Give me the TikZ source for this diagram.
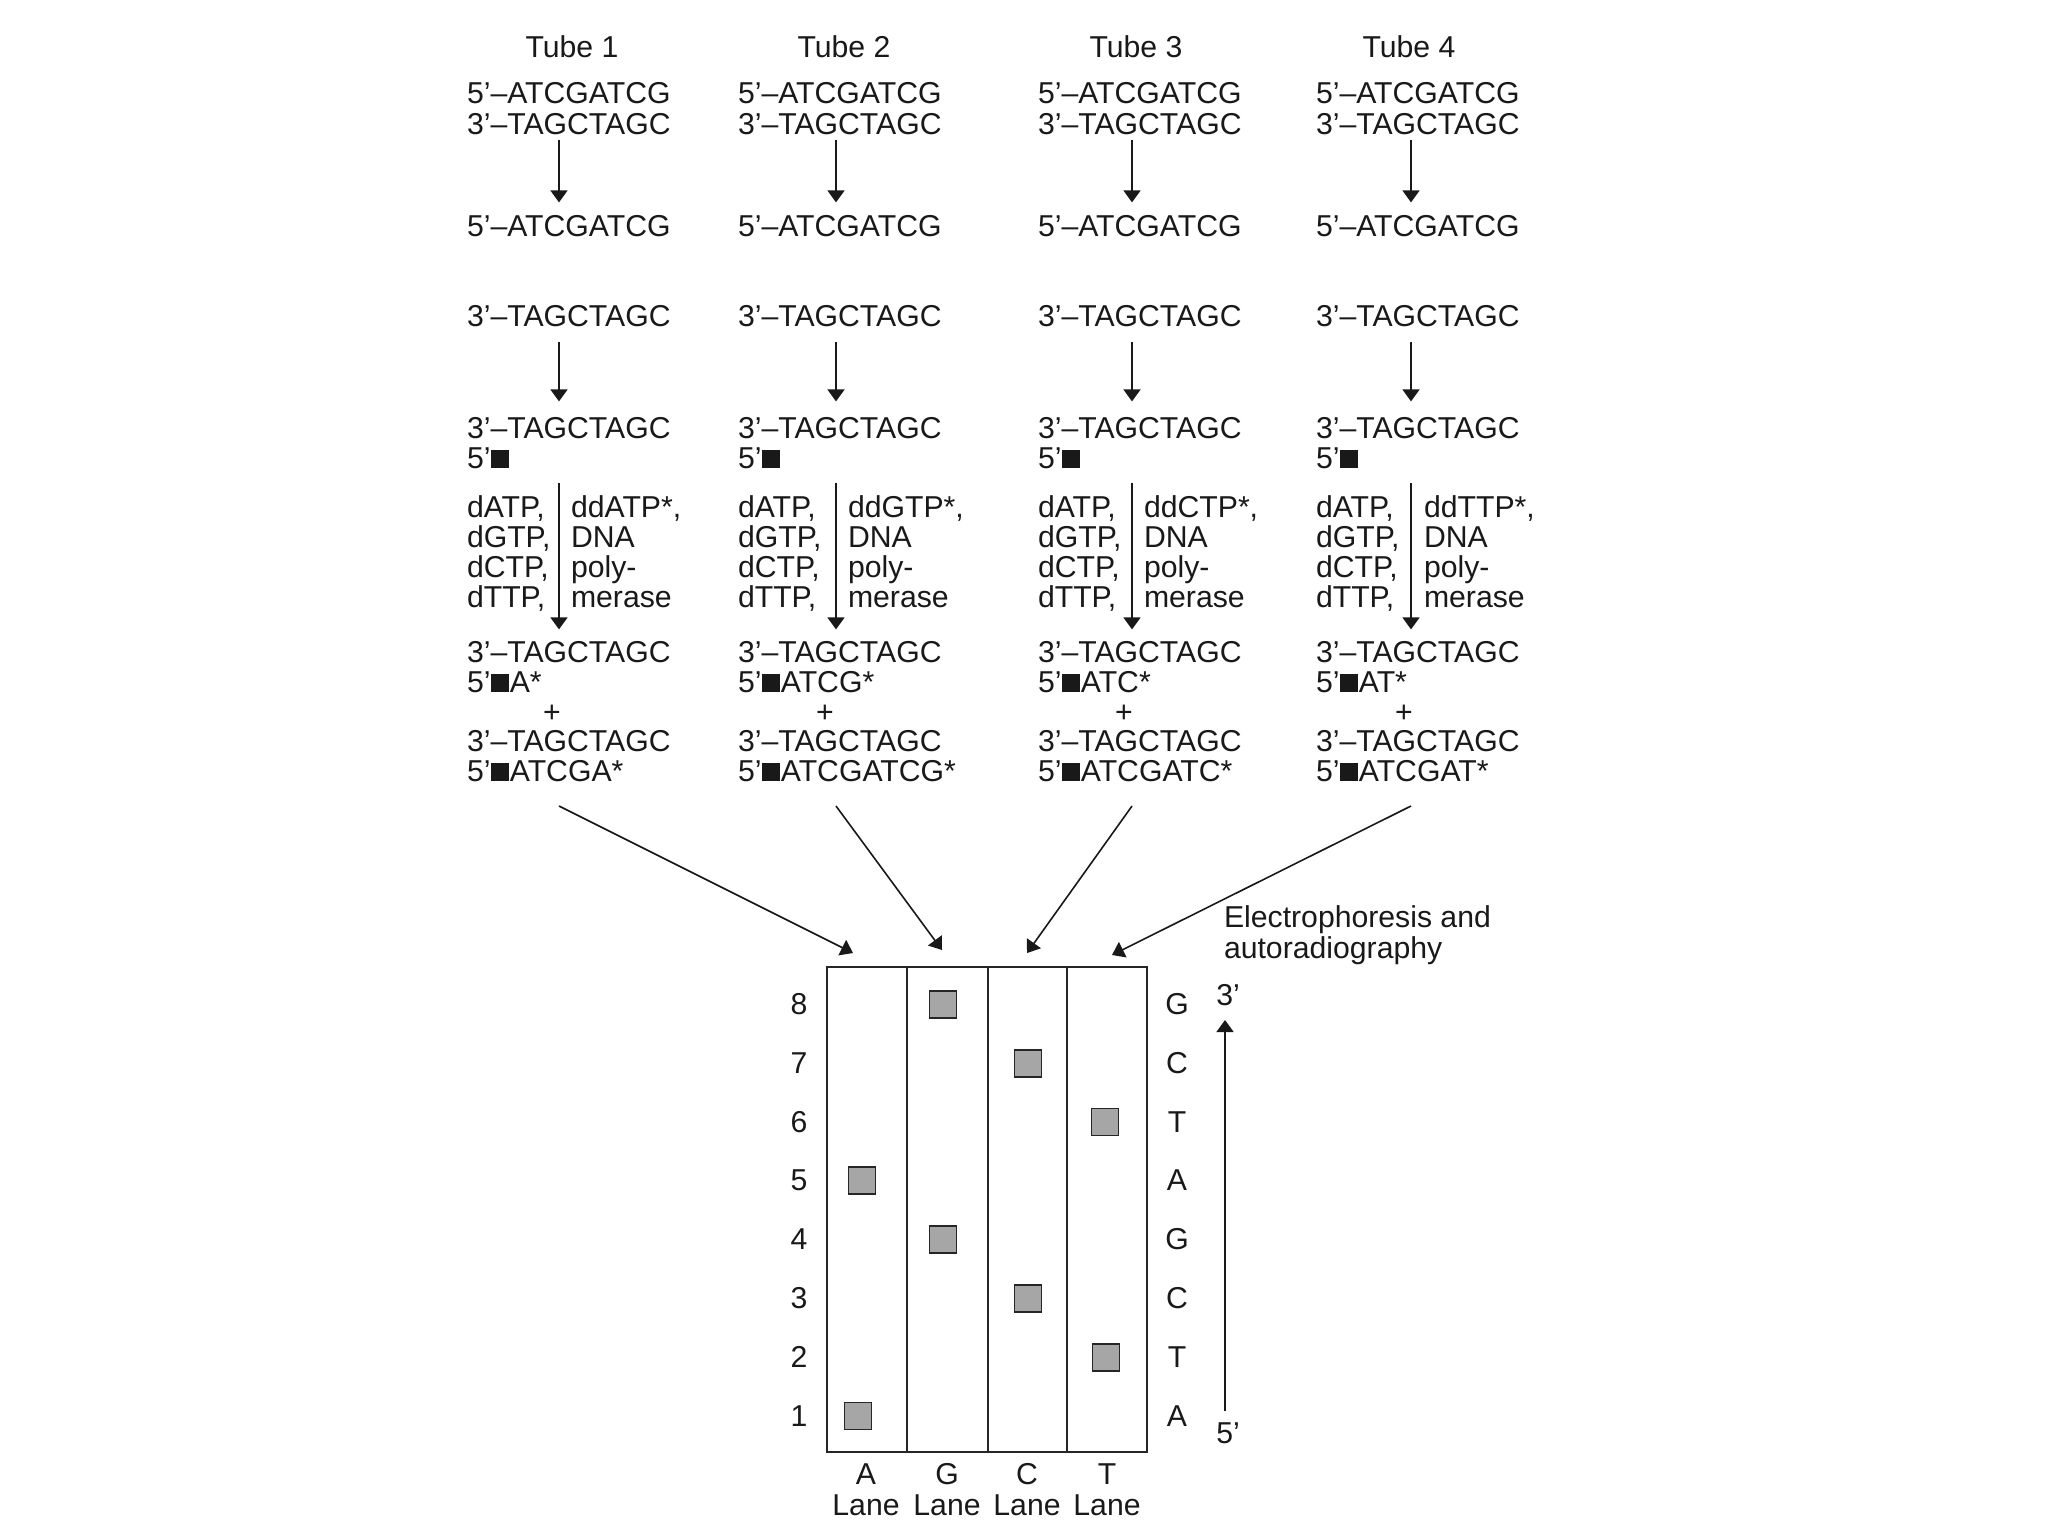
\documentclass[tikz,border=0pt]{standalone}
\usepackage{fontspec}
\setmainfont{Liberation Sans}
\usetikzlibrary{arrows.meta,calc}
\newcommand{\dnafont}{\fontsize{15.1pt}{15pt}\selectfont}
\newcommand{\blk}{\rule{0.6em}{0.58em}\kern0.04em}
\begin{document}
\begin{tikzpicture}[x=0.5pt,y=-0.5pt,
  txt/.style={inner sep=0pt,outer sep=0pt,font=\dnafont,text=black!90,text height=10.8pt,text depth=3pt},
  arr/.style={draw=black!90,line width=0.8pt,-{Triangle[width=8.5pt,length=6pt]}},
  gel/.style={draw=black!85,line width=1pt},
  band/.style={draw=black!85,line width=0.9pt,fill=black!35,minimum size=13.5pt,inner sep=0pt}]
\useasboundingbox (0,0) rectangle (2048,1536);

\foreach \i/\T/\L/\A/\R/\P/\nuc/\sa/\sb/\gx/\gy in {
1/572/467/559/571/552/A/A/ATCGA/853/953,
2/844/738/836/848/825/G/ATCG/ATCGATCG/942/950,
3/1136/1038/1132/1144/1124/C/ATC/ATCGATC/1027/953,
4/1409/1316/1411/1424/1404/T/AT/ATCGAT/1112/955}{
  \node[txt,anchor=base] (tube\i) at (\T,58) {Tube \i};
  \node[txt,anchor=base west] (ds5\i) at (\L,104) {5’–ATCGATCG};
  \node[txt,anchor=base west] (ds3\i) at (\L,134) {3’–TAGCTAGC};
  \node[txt,anchor=base west] (ss5\i) at (\L,236) {5’–ATCGATCG};
  \node[txt,anchor=base west] (ss3\i) at (\L,326) {3’–TAGCTAGC};
  \node[txt,anchor=base west] (tp\i) at (\L,438) {3’–TAGCTAGC};
  \node[txt,anchor=base west] (pr\i) at (\L,468) {5’\blk};
  \node[txt,anchor=base west] (dla\i) at (\L,517) {dATP,};
  \node[txt,anchor=base west] (dlb\i) at (\L,547) {dGTP,};
  \node[txt,anchor=base west] (dlc\i) at (\L,577) {dCTP,};
  \node[txt,anchor=base west] (dld\i) at (\L,607) {dTTP,};
  \node[txt,anchor=base west] (dra\i) at (\R,517) {dd\nuc TP*,};
  \node[txt,anchor=base west] (drb\i) at (\R,547) {DNA};
  \node[txt,anchor=base west] (drc\i) at (\R,577) {poly-};
  \node[txt,anchor=base west] (drd\i) at (\R,607) {merase};
  \node[txt,anchor=base west] (at\i) at (\L,662) {3’–TAGCTAGC};
  \node[txt,anchor=base west] (ap\i) at (\L,692) {5’\blk\sa*};
  \node[txt,anchor=base] (plus\i) at (\P,722) {+};
  \node[txt,anchor=base west] (bt\i) at (\L,751) {3’–TAGCTAGC};
  \node[txt,anchor=base west] (bp\i) at (\L,781) {5’\blk\sb*};
  \coordinate (ax\i) at (\A,0);
  \coordinate (g\i) at (\gx,\gy);
  \draw[arr,shorten >=6pt] (ds3\i.south -| ax\i) -- (ss5\i.north -| ax\i);
  \draw[arr,shorten <=5pt,shorten >=7.5pt] (ss3\i.south -| ax\i) -- (tp\i.north -| ax\i);
  \draw[arr,shorten <=4.5pt,shorten >=5.5pt] (pr\i.south -| ax\i) -- (at\i.north -| ax\i);
  \draw[arr] ([yshift=-9.5pt]bp\i.south -| ax\i) -- (g\i);
}

% gel
\draw[gel] (827,967) rectangle (1147,1452);
\foreach \x in {907,988,1067} \draw[gel] (\x,967) -- (\x,1452);

\foreach \k/\b in {1/A,2/T,3/C,4/G,5/A,6/T,7/C,8/G}{
  \pgfmathsetmacro\yy{1426-58.8*(\k-1)}
  \node[txt,anchor=base] (num\k) at (799,\yy) {\k};
  \node[txt,anchor=base] (base\k) at (1177,\yy) {\b};
}

\foreach \n/\x/\k in {A5/862/5,A1/858/1,G8/943/8,G4/943/4,C7/1028/7,C3/1028/3,T6/1105/6,T2/1106/2}{
  \pgfmathsetmacro\yy{1416-58.8*(\k-1)}
  \node[band] (band\n) at (\x,\yy) {};
}

\foreach \l/\x in {A/866,G/947,C/1027,T/1107}{
  \node[txt,anchor=base] (ll\l) at (\x,1484) {\l};
  \node[txt,anchor=base] (ln\l) at (\x,1515) {Lane};
}

\node[txt,anchor=base west] (el1) at (1224,927) {Electrophoresis and};
\node[txt,anchor=base west] (el2) at (1224,958) {autoradiography};

\node[txt,anchor=base] (p3) at (1228,1005) {3’};
\node[txt,anchor=base] (p5) at (1228,1443) {5’};
\coordinate (sx) at (1225,0);
\draw[arr,shorten <=5pt,shorten >=4.5pt] (p5.north -| sx) -- (p3.south -| sx);
\end{tikzpicture}
\end{document}
